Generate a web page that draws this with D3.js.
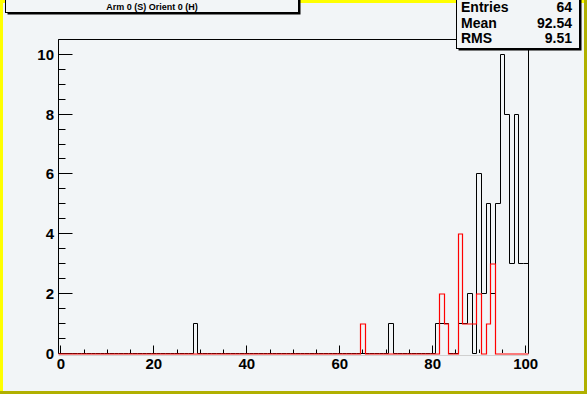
<!DOCTYPE html>
<html>
<head>
<meta charset="utf-8">
<script src="https://cdn.jsdelivr.net/npm/d3@7"></script>
<style>
  body { margin: 0; padding: 0; background: #f2f5f7; }
  svg { display: block; }
  text { font-family: "Liberation Sans", Arial, Helvetica, sans-serif; font-weight: bold; }
</style>
</head>
<body>
<div id="chart"></div>
<script>
// histogram contents, only non-empty bins listed (bin centre -> count)
var blackBins   = [29, 71, 81, 82, 83, 86, 87, 88, 90, 91, 92, 93, 94, 95, 96, 97, 98, 99, 100];
var blackCounts = [1, 1, 1, 1, 1, 1, 1, 2, 6, 2, 5, 2, 5, 10, 8, 3, 8, 3, 3];
var redBins     = [65, 82, 83, 86, 87, 88, 89, 90, 92, 93];
var redCounts   = [1, 2, 1, 4, 1, 1, 1, 2, 1, 3];

var xTickLabels = [0, 20, 40, 60, 80, 100];
var yTickLabels = [0, 2, 4, 6, 8, 10];

var titleText = "Arm 0 (S) Orient 0 (H)";
var statNames  = ["Entries", "Mean", "RMS"];
var statValues = ["64", "92.54", "9.51"];

var W = 587, H = 394;
var nBins = 101, xLow = -0.5, xHigh = 100.5;

var svg = d3.select("#chart").append("svg")
  .attr("width", W)
  .attr("height", H);

// canvas background + ROOT style border
svg.append("rect").attr("x", 0).attr("y", 0).attr("width", W).attr("height", H).attr("fill", "#f2f5f7");
svg.append("rect").attr("x", 0).attr("y", 0).attr("width", W).attr("height", 3).attr("fill", "#ffff00");
svg.append("rect").attr("x", 0).attr("y", 0).attr("width", 3).attr("height", H).attr("fill", "#ffff00");
svg.append("rect").attr("x", 0).attr("y", H - 3).attr("width", W).attr("height", 3).attr("fill", "#b0b000");
svg.append("rect").attr("x", W - 3).attr("y", 0).attr("width", 3).attr("height", H).attr("fill", "#b0b000");

// frame
var frame = { left: 58.5, top: 39.5, right: 528, bottom: 353 };

var x = d3.scaleLinear().domain([xLow, xHigh]).range([frame.left, frame.right]);
var y = d3.scaleLinear().domain([0, 10.5]).range([frame.bottom, frame.top]);

// snap to pixel centres so 1px lines stay sharp
function px(v) { return Math.round(v - 0.5) + 0.5; }

// frame: top, left and right sides; the bottom is covered by the histograms
var fb = px(frame.bottom), ft = px(frame.top), fl = px(frame.left), fr = px(frame.right);
svg.append("path")
  .attr("d", "M" + fl + "," + fb + "V" + ft + "H" + fr + "V" + fb)
  .attr("fill", "none")
  .attr("stroke", "#000");

// y axis ticks (pointing into the frame)
var yMinor = d3.range(0, 10.5001, 0.5);
svg.selectAll("line.ytick").data(yMinor).enter().append("line")
  .attr("class", "ytick")
  .attr("x1", fl)
  .attr("x2", function (d) { return fl + (d % 2 === 0 ? 14 : 7); })
  .attr("y1", function (d) { return px(y(d)); })
  .attr("y2", function (d) { return px(y(d)); })
  .attr("stroke", "#000");

svg.selectAll("text.ylab").data(yTickLabels).enter().append("text")
  .attr("class", "ylab")
  .attr("x", 54)
  .attr("y", function (d) { return y(d) + 5.5; })
  .attr("text-anchor", "end")
  .attr("font-size", "15px")
  .text(function (d) { return d; });

// x axis ticks (pointing up)
var xMinor = d3.range(0, 100.001, 5);
svg.selectAll("line.xtick").data(xMinor).enter().append("line")
  .attr("class", "xtick")
  .attr("x1", function (d) { return px(x(d)); })
  .attr("x2", function (d) { return px(x(d)); })
  .attr("y1", fb - 0.5)
  .attr("y2", function (d) { return fb - (d % 20 === 0 ? 8 : 4); })
  .attr("stroke", "#000");

svg.selectAll("text.xlab").data(xTickLabels).enter().append("text")
  .attr("class", "xlab")
  .attr("x", function (d) { return x(d); })
  .attr("y", 369)
  .attr("text-anchor", "middle")
  .attr("font-size", "15px")
  .text(function (d) { return d; });

// fill every bin (empty ones are 0)
function fullHist(bins, counts) {
  var h = new Array(nBins).fill(0);
  bins.forEach(function (b, i) { h[b] = counts[i]; });
  return h;
}

// step outline, dy nudges the line vertically
function stepPath(h, dy) {
  var w = (xHigh - xLow) / nBins;
  var p = [[px(x(xLow)), px(y(0)) + dy]];
  h.forEach(function (v, i) {
    var lo = xLow + i * w, hi = lo + w;
    p.push([px(x(lo)), px(y(v)) + dy]);
    p.push([px(x(hi)), px(y(v)) + dy]);
  });
  p.push([px(x(xHigh)), px(y(0)) + dy]);
  return d3.line()(p);
}

// faint grey line just under the x axis
svg.append("line")
  .attr("x1", fl).attr("x2", fr)
  .attr("y1", fb + 2).attr("y2", fb + 2)
  .attr("stroke", "#d0d0d0");

svg.append("path")
  .attr("d", stepPath(fullHist(blackBins, blackCounts), 0))
  .attr("fill", "none")
  .attr("stroke", "#000")
  .attr("stroke-width", 1);

svg.append("path")
  .attr("d", stepPath(fullHist(redBins, redCounts), 0.5))
  .attr("fill", "none")
  .attr("stroke", "#ff0000")
  .attr("stroke-width", 1.2);

// title box (top left, partly off canvas)
function shadowBox(x0, y0, x1, y1) {
  svg.append("rect")
    .attr("x", x0 + 2).attr("y", y0 + 2)
    .attr("width", x1 - x0).attr("height", y1 - y0)
    .attr("fill", "#000");
  svg.append("rect")
    .attr("x", x0).attr("y", y0)
    .attr("width", x1 - x0).attr("height", y1 - y0)
    .attr("fill", "#f2f5f7")
    .attr("stroke", "#000")
    .attr("stroke-width", 1);
}

shadowBox(5.5, -20, 298.5, 12.5);
svg.append("text")
  .attr("x", 152)
  .attr("y", 10)
  .attr("text-anchor", "middle")
  .attr("font-size", "9px")
  .text(titleText);

// stats box
shadowBox(456.5, -20, 579.5, 48.5);
statNames.forEach(function (n, i) {
  svg.append("text")
    .attr("x", 461)
    .attr("y", 12 + i * 15.5)
    .attr("font-size", "14px")
    .text(n);
  svg.append("text")
    .attr("x", 572)
    .attr("y", 12 + i * 15.5)
    .attr("text-anchor", "end")
    .attr("font-size", "14px")
    .text(statValues[i]);
});
</script>
</body>
</html>
